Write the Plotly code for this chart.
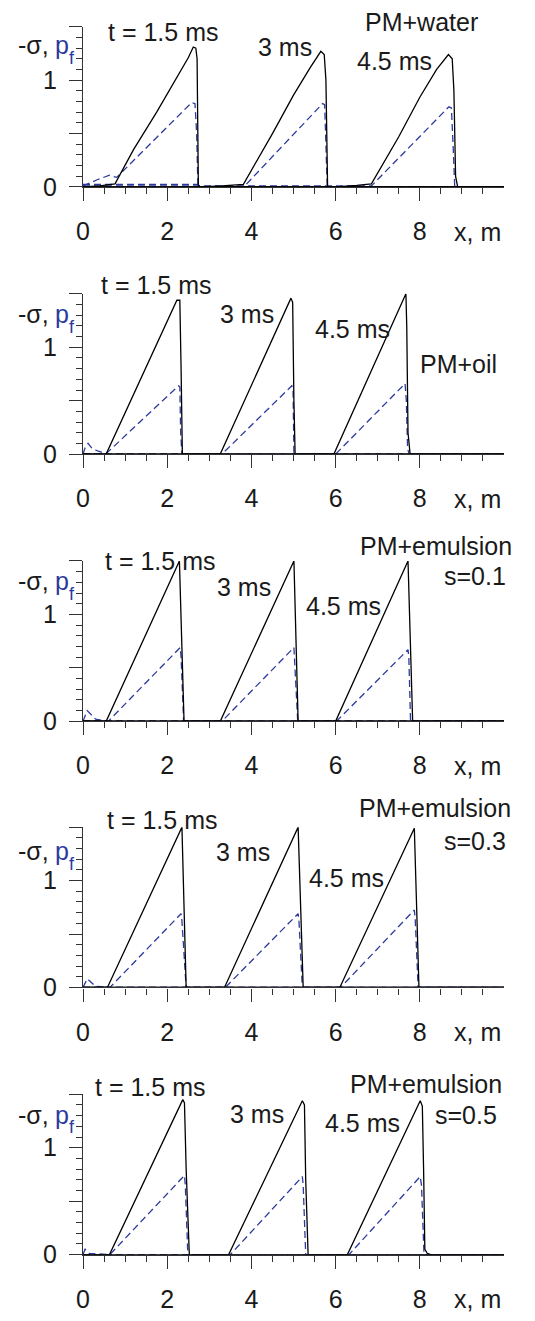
import plotly.graph_objects as go

# ---------------- data ----------------
# Panel 1: PM+water
water_sig_x = [[0, 0.4, 0.76, 1.2, 1.75, 2.2, 2.5, 2.62, 2.68, 2.71, 2.72, 2.74, 2.78, 10],
               [0, 2.8, 3.3, 3.81, 4.5, 5.0, 5.4, 5.65, 5.73, 5.77, 5.81, 10],
               [0, 6.0, 6.5, 6.85, 7.5, 8.0, 8.4, 8.68, 8.77, 8.81, 8.85, 8.9, 10]]
water_sig_y = [[0, 0.01, 0.03, 0.35, 0.70, 1.01, 1.21, 1.31, 1.30, 1.20, 0.6, 0.02, 0, 0],
               [0, 0, 0.01, 0.025, 0.50, 0.86, 1.12, 1.27, 1.24, 1.0, 0, 0],
               [0, 0, 0.015, 0.03, 0.47, 0.84, 1.10, 1.24, 1.20, 0.9, 0.1, 0, 0]]
water_pf_x = [[0, 0.35, 0.63, 0.80, 2.58, 2.66, 2.70, 2.73, 10],
              [0, 2.7, 2.8, 3.83, 5.69, 5.74, 5.77, 5.80, 10],
              [0, 6.85, 8.69, 8.75, 8.79, 8.83, 10]]
water_pf_y = [[0.01, 0.07, 0.11, 0.09, 0.79, 0.78, 0.5, 0, 0],
              [0.025, 0.025, 0.005, 0.005, 0.78, 0.77, 0.4, 0, 0],
              [0.01, 0.01, 0.75, 0.74, 0.4, 0, 0]]

# Panel 2: PM+oil
oil_sig_x = [[0, 0.55, 2.23, 2.30, 2.33, 2.36, 10],
             [0, 3.26, 4.94, 4.98, 5.01, 5.04, 5.10, 10],
             [0, 5.96, 7.67, 7.69, 7.72, 7.77, 10]]
oil_sig_y = [[0, 0, 1.44, 1.44, 0.8, 0, 0],
             [0, 0, 1.46, 1.42, 0.5, -0.03, 0, 0],
             [0, 0, 1.50, 1.2, 0.2, 0, 0]]
oil_pf_x = [[0, 0.05, 0.12, 0.22, 0.35, 0.55, 2.27, 2.30, 2.32, 2.35, 10],
            [0, 3.30, 4.96, 4.99, 5.01, 10],
            [0, 6.0, 7.65, 7.68, 7.71, 7.75, 10]]
oil_pf_y = [[0, 0.06, 0.10, 0.05, 0.03, 0.005, 0.64, 0.63, 0.2, 0, 0],
            [0, 0, 0.64, 0.60, 0, 0],
            [0, 0, 0.66, 0.5, 0.05, 0, 0]]

# Panel 3: PM+emulsion s=0.1
e1_sig_x = [[0, 0.55, 2.29, 2.40, 10],
            [0, 3.26, 5.01, 5.11, 10],
            [0, 6.0, 7.72, 7.83, 10]]
e1_sig_y = [[0, 0, 1.50, 0, 0],
            [0, 0, 1.50, 0, 0],
            [0, 0, 1.50, 0, 0]]
e1_pf_x = [[0, 0.1, 0.3, 0.6, 2.31, 2.33, 2.39, 10],
           [0, 3.30, 5.01, 5.02, 5.10, 10],
           [0, 6.02, 7.72, 7.74, 7.78, 10]]
e1_pf_y = [[0, 0.10, 0.02, 0, 0.69, 0.6, 0, 0],
           [0, 0, 0.69, 0.6, 0, 0],
           [0, 0, 0.67, 0.6, 0, 0]]

# Panel 4: PM+emulsion s=0.3
e3_sig_x = [[0, 0.58, 2.35, 2.45, 10],
            [0, 3.36, 5.11, 5.23, 10],
            [0, 6.10, 7.87, 7.98, 10]]
e3_sig_y = [[0, 0, 1.50, 0, 0],
            [0, 0, 1.50, 0, 0],
            [0, 0, 1.49, 0, 0]]
e3_pf_x = [[0, 0.10, 0.3, 0.64, 2.33, 2.35, 2.45, 10],
           [0, 3.38, 5.11, 5.13, 5.21, 10],
           [0, 6.12, 7.87, 7.89, 7.96, 10]]
e3_pf_y = [[0, 0.08, 0.01, 0, 0.69, 0.62, 0, 0],
           [0, 0, 0.69, 0.62, 0, 0],
           [0, 0, 0.725, 0.65, 0, 0]]

# Panel 5: PM+emulsion s=0.5
e5_sig_x = [[0, 0.63, 2.37, 2.41, 2.45, 2.51, 2.53, 2.6, 10],
            [0, 3.46, 5.21, 5.26, 5.29, 5.33, 5.35, 5.42, 10],
            [0, 6.28, 8.01, 8.06, 8.09, 8.12, 8.18, 8.26, 10]]
e5_sig_y = [[0, 0, 1.45, 1.42, 0.8, 0, -0.05, 0, 0],
            [0, 0, 1.44, 1.40, 0.7, 0, -0.04, 0, 0],
            [0, 0, 1.44, 1.39, 0.8, 0.05, 0.01, 0, 0]]
e5_pf_x = [[0, 0.05, 0.15, 0.64, 2.41, 2.43, 2.49, 10],
           [0, 3.50, 5.21, 5.23, 5.29, 10],
           [0, 6.32, 8.01, 8.04, 8.10, 10]]
e5_pf_y = [[0, 0.05, 0.01, 0, 0.74, 0.65, 0, 0],
           [0, 0, 0.73, 0.65, 0, 0],
           [0, 0, 0.73, 0.65, 0, 0]]

x_tick_vals = [0, 2, 4, 6, 8]
x_tick_text = ["0", "2", "4", "6", "8"]
x_minor_vals = [0.5, 1, 1.5, 2.5, 3, 3.5, 4.5, 5, 5.5, 6.5, 7, 7.5, 8.5, 9, 9.5]
y_tick_vals = [0, 1]
y_tick_text = ["0", "1"]
y_half_vals = [0.5, 1.5]  # long ticks without labels
y_minor_vals = [0.1, 0.2, 0.3, 0.4, 0.6, 0.7, 0.8, 0.9, 1.1, 1.2, 1.3, 1.4]

panels = [
    (water_sig_x, water_sig_y, water_pf_x, water_pf_y),
    (oil_sig_x, oil_sig_y, oil_pf_x, oil_pf_y),
    (e1_sig_x, e1_sig_y, e1_pf_x, e1_pf_y),
    (e3_sig_x, e3_sig_y, e3_pf_x, e3_pf_y),
    (e5_sig_x, e5_sig_y, e5_pf_x, e5_pf_y),
]

# text labels per panel: (text, x in data units, y in data units)
panel_texts = [
    [("t = 1.5 ms", 1.90, 1.45), ("3 ms", 4.80, 1.31), ("4.5 ms", 7.39, 1.18), ("PM+water", 8.03, 1.54)],
    [("t = 1.5 ms", 1.73, 1.58), ("3 ms", 3.90, 1.31), ("4.5 ms", 6.41, 1.17), ("PM+oil", 8.91, 0.84)],
    [("t = 1.5 ms", 1.83, 1.50), ("3 ms", 3.82, 1.26), ("4.5 ms", 6.18, 1.08), ("PM+emulsion", 8.38, 1.64), ("s=0.1", 9.31, 1.36)],
    [("t = 1.5 ms", 1.88, 1.57), ("3 ms", 3.80, 1.27), ("4.5 ms", 6.25, 1.02), ("PM+emulsion", 8.36, 1.68), ("s=0.3", 9.31, 1.37)],
    [("t = 1.5 ms", 1.59, 1.57), ("3 ms", 4.13, 1.32), ("4.5 ms", 6.63, 1.23), ("PM+emulsion", 8.15, 1.60), ("s=0.5", 9.10, 1.31)],
]
ylabel_y = [1.33, 1.31, 1.31, 1.28, 1.31]

# ---------------- figure ----------------
W, H = 535, 1321
ML, MR = 83, 31
zeros_px = [189, 459, 729, 998, 1268]
PH = 162  # pixel height of 1.5 units
UPX = PH / 1.5
PW = W - ML - MR

BLUE = "#2b3a9e"
AX = "#333333"
TXT = "#1a1a1a"
FONT = "Liberation Sans, Arial, sans-serif"
FS = 25


def to_paper(dx, dy, z):
    return dx / 10.0, (H - z + dy * UPX) / H


def px_to_paper_x(p):
    return (p - ML) / PW


fig = go.Figure()
layout = dict(width=W, height=H, margin=dict(l=ML, r=MR, t=0, b=0),
              paper_bgcolor="white", plot_bgcolor="white", showlegend=False,
              font=dict(family=FONT, size=FS, color=TXT))
annotations = []

for i, (sx, sy, px, py) in enumerate(panels):
    n = i + 1
    xa = "x" if n == 1 else f"x{n}"
    ya = "y" if n == 1 else f"y{n}"
    yo = f"y{n + 5}"
    for k in range(3):
        fig.add_trace(go.Scatter(x=px[k], y=py[k], mode="lines", xaxis=xa, yaxis=ya,
                                 line=dict(color=BLUE, width=1.3, dash="7px,4px")))
    for k in range(3):
        fig.add_trace(go.Scatter(x=sx[k], y=sy[k], mode="lines", xaxis=xa, yaxis=ya,
                                 line=dict(color="black", width=1.3)))
    # invisible trace to hold the overlay axis with the unlabeled half-unit ticks
    fig.add_trace(go.Scatter(x=[None], y=[None], mode="lines", xaxis=xa, yaxis=yo,
                             hoverinfo="skip", line=dict(width=0)))
    z = zeros_px[i]
    d0 = (H - z) / H
    d1 = (H - z + PH) / H
    layout["xaxis" if n == 1 else f"xaxis{n}"] = dict(
        domain=[0, 1], anchor=ya, range=[0, 10], showgrid=False, zeroline=False,
        showline=True, linecolor=AX, linewidth=1.3,
        tickmode="array", tickvals=x_tick_vals, ticktext=x_tick_text,
        ticks="outside", ticklen=13, tickwidth=1.3, tickcolor=AX,
        ticklabelstandoff=9, tickfont=dict(size=FS, color=TXT),
        minor=dict(tickvals=x_minor_vals, ticks="outside", ticklen=6, tickwidth=1.2, tickcolor=AX, showgrid=False),
    )
    layout["yaxis" if n == 1 else f"yaxis{n}"] = dict(
        domain=[d0, d1], anchor=xa, range=[0, 1.5], showgrid=False, zeroline=False,
        showline=True, linecolor=AX, linewidth=1.3,
        tickmode="array", tickvals=y_tick_vals, ticktext=y_tick_text,
        ticks="outside", ticklen=13, tickwidth=1.3, tickcolor=AX,
        ticklabelstandoff=7, tickfont=dict(size=FS, color=TXT),
        minor=dict(tickvals=y_minor_vals, ticks="outside", ticklen=6, tickwidth=1.2, tickcolor=AX, showgrid=False),
    )
    layout[f"yaxis{n + 5}"] = dict(
        overlaying=ya, anchor=xa, side="left", range=[0, 1.5], showgrid=False, zeroline=False,
        showline=False, tickmode="array", tickvals=y_half_vals, showticklabels=False,
        ticks="outside", ticklen=13, tickwidth=1.3, tickcolor=AX,
    )
    for (txt, tx, ty) in panel_texts[i]:
        ax_, ay_ = to_paper(tx, ty, z)
        annotations.append(dict(text=txt, x=ax_, y=ay_, xref="paper", yref="paper", showarrow=False,
                                xanchor="center", yanchor="middle", font=dict(size=FS, color=TXT)))
    # y-axis label: "-σ," black, "p" blue, subscript "f" blue
    _, ly = to_paper(0, ylabel_y[i], z)
    annotations.append(dict(text="-σ,", x=px_to_paper_x(16), y=ly, xref="paper", yref="paper",
                            showarrow=False, xanchor="left", yanchor="middle",
                            font=dict(size=FS, color=TXT)))
    annotations.append(dict(text="p", x=px_to_paper_x(53), y=ly, xref="paper", yref="paper",
                            showarrow=False, xanchor="left", yanchor="middle",
                            font=dict(size=FS, color=BLUE)))
    annotations.append(dict(text="f", x=px_to_paper_x(67), y=ly - 13 / H, xref="paper", yref="paper",
                            showarrow=False, xanchor="left", yanchor="middle",
                            font=dict(size=18, color=BLUE)))
    ax_, ay_ = to_paper(9.98, -0.42, z)
    annotations.append(dict(text="x, m", x=ax_, y=ay_, xref="paper", yref="paper", showarrow=False,
                            xanchor="right", yanchor="middle", font=dict(size=FS, color=TXT)))

layout["annotations"] = annotations
fig.update_layout(**layout)
fig.write_html("out.html")
